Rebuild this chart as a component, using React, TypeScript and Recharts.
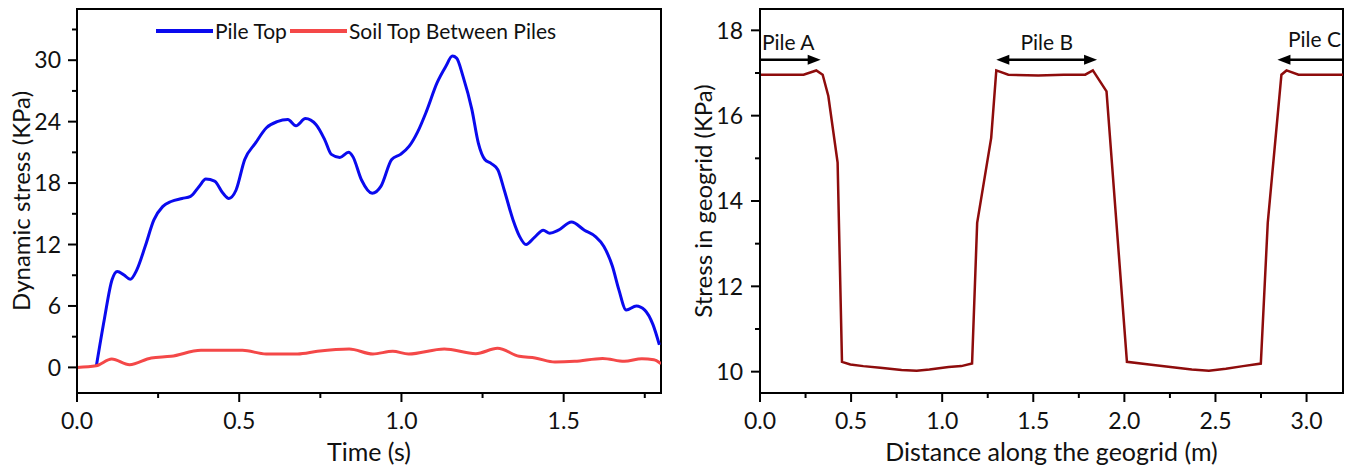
import React from 'react';
import { LineChart, Line, XAxis, YAxis, ReferenceArea, ReferenceLine, Legend } from 'recharts';

// left panel: dynamic stress vs time
const pileTopTime = [0.06, 0.084, 0.108, 0.124, 0.144, 0.164, 0.184, 0.21, 0.237, 0.264, 0.29, 0.324, 0.35, 0.377, 0.397, 0.424, 0.45, 0.468, 0.49, 0.517, 0.55, 0.584, 0.617, 0.65, 0.675, 0.704, 0.737, 0.764, 0.784, 0.81, 0.837, 0.85, 0.877, 0.91, 0.937, 0.97, 0.997, 1.024, 1.05, 1.077, 1.11, 1.137, 1.157, 1.17, 1.19, 1.217, 1.237, 1.257, 1.277, 1.297, 1.317, 1.344, 1.364, 1.384, 1.41, 1.437, 1.457, 1.484, 1.524, 1.564, 1.597, 1.624, 1.65, 1.67, 1.693, 1.724, 1.75, 1.775, 1.795];
const pileTopStress = [0.2, 4.65, 8.56, 9.37, 9.05, 8.6, 9.5, 11.8, 14.4, 15.7, 16.2, 16.5, 16.7, 17.7, 18.4, 18.2, 17.0, 16.5, 17.3, 20.3, 21.9, 23.4, 24.0, 24.2, 23.6, 24.3, 23.7, 22.2, 20.8, 20.5, 21.0, 20.6, 18.3, 17.0, 17.7, 20.3, 20.8, 21.6, 23.0, 25.0, 27.8, 29.4, 30.4, 30.2, 28.4, 25.2, 21.9, 20.3, 19.9, 19.3, 17.3, 14.4, 12.8, 12.0, 12.7, 13.4, 13.1, 13.4, 14.2, 13.4, 12.8, 11.8, 9.9, 7.6, 5.6, 6.0, 5.6, 4.2, 2.2];
const soilTime = [0, 0.059, 0.107, 0.162, 0.229, 0.29, 0.382, 0.51, 0.583, 0.68, 0.741, 0.839, 0.912, 0.973, 1.022, 1.132, 1.229, 1.296, 1.363, 1.412, 1.473, 1.534, 1.62, 1.687, 1.741, 1.778, 1.8];
const soilStress = [0, 0.16, 0.82, 0.26, 0.92, 1.08, 1.67, 1.67, 1.31, 1.31, 1.57, 1.8, 1.31, 1.57, 1.31, 1.8, 1.34, 1.86, 1.08, 0.92, 0.52, 0.59, 0.88, 0.59, 0.85, 0.75, 0.36];
const timeTicks = [0, 0.25, 0.5, 0.75, 1, 1.25, 1.5, 1.75];
const dynTicks = [0, 3, 6, 9, 12, 15, 18, 21, 24, 27, 30, 33];

// right panel: stress in geogrid vs distance
const distance = [0, 0.239, 0.309, 0.344, 0.375, 0.426, 0.45, 0.496, 0.567, 0.66, 0.777, 0.86, 0.93, 1.035, 1.105, 1.164, 1.192, 1.269, 1.297, 1.363, 1.527, 1.667, 1.785, 1.827, 1.902, 2.014, 2.136, 2.253, 2.37, 2.464, 2.557, 2.651, 2.749, 2.787, 2.862, 2.89, 2.956, 3.2];
const geogridStress = [16.96, 16.96, 17.06, 16.96, 16.46, 14.9, 10.23, 10.17, 10.13, 10.09, 10.04, 10.02, 10.05, 10.11, 10.13, 10.19, 13.49, 15.48, 17.06, 16.96, 16.94, 16.96, 16.96, 17.06, 16.57, 10.23, 10.17, 10.11, 10.05, 10.02, 10.07, 10.13, 10.19, 13.49, 16.96, 17.06, 16.96, 16.96];
const distTicks = [0, 0.25, 0.5, 0.75, 1, 1.25, 1.5, 1.75, 2, 2.25, 2.5, 2.75, 3];
const geoTicks = [10, 11, 12, 13, 14, 15, 16, 17, 18];

const pileArrowY = 17.31;

const pileTopData = pileTopTime.map((t, i) => ({ t, v: pileTopStress[i] }));
const soilData = soilTime.map((t, i) => ({ t, v: soilStress[i] }));
const geoData = distance.map((d, i) => ({ d, v: geogridStress[i] }));

const FONT = 'Lato, "Open Sans", sans-serif';
const isMajor = (v: number, step: number) => Math.abs(v / step - Math.round(v / step)) < 1e-6;

const bottomTick = (step: number) => (props: any) => {
  const { x, y, payload } = props;
  const v = payload.value;
  const major = isMajor(v, step);
  return (
    <g>
      <line x1={x} x2={x} y1={y} y2={y + (major ? 9 : 5)} stroke="#000" strokeWidth={2} />
      {major && (
        <text x={x} y={y + 36} textAnchor="middle" fontSize={23} fill="#111">
          {v.toFixed(1)}
        </text>
      )}
    </g>
  );
};

const leftTick = (step: number, gap: number) => (props: any) => {
  const { x, y, payload } = props;
  const v = payload.value;
  const major = isMajor(v, step);
  return (
    <g>
      <line x1={x} x2={x - (major ? 9 : 5)} y1={y} y2={y} stroke="#000" strokeWidth={2} />
      {major && (
        <text x={x - gap} y={y} dy="0.36em" textAnchor="end" fontSize={23} fill="#111">
          {v}
        </text>
      )}
    </g>
  );
};

const LegendBox = ({ payload }: any) => (
  <div style={{ display: 'flex', alignItems: 'center', fontFamily: FONT, fontSize: 21, color: '#111' }}>
    {(payload || []).map((p: any) => (
      <div key={p.value} style={{ display: 'flex', alignItems: 'center', marginRight: 3 }}>
        <div style={{ width: 57, height: 4, background: p.color, marginRight: 2 }} />
        <span>{p.value}</span>
      </div>
    ))}
  </div>
);

// arrow with label, drawn from the reference line end points
const pileArrow = (label: string, heads: 'end' | 'start' | 'both', labelX: 'left' | 'center' | 'right', lift: number) => (p: any) => {
  const { x1, y1, x2, y2 } = p;
  const head = (xt: number, dir: number) => (
    <polygon points={`${xt},${y1} ${xt - dir * 13},${y1 - 5} ${xt - dir * 13},${y1 + 5}`} fill="#000" />
  );
  const lx = labelX === 'left' ? x1 + 2 : labelX === 'right' ? x2 - 2 : (x1 + x2) / 2;
  const anchor = labelX === 'left' ? 'start' : labelX === 'right' ? 'end' : 'middle';
  return (
    <g>
      <line x1={x1 + (heads !== 'end' ? 8 : 0)} x2={x2 - (heads !== 'start' ? 8 : 0)} y1={y1} y2={y2} stroke="#000" strokeWidth={2.5} />
      {heads !== 'start' && head(x2, 1)}
      {heads !== 'end' && head(x1, -1)}
      <text x={lx} y={y1 - lift} textAnchor={anchor} fontSize={21} fill="#111">
        {label}
      </text>
    </g>
  );
};

export default function App() {
  return (
    <div style={{ position: 'absolute', left: 0, top: 0, width: 1348, height: 470, background: '#fff', fontFamily: FONT, display: 'flex' }}>
      <LineChart width={680} height={470} margin={{ top: 9, right: 19, left: 0, bottom: 0 }}>
        <XAxis
          dataKey="t"
          type="number"
          domain={[0, 1.8]}
          ticks={timeTicks}
          interval={0}
          allowDataOverflow
          height={77}
          tickSize={0}
          tickMargin={0}
          tickLine={false}
          axisLine={{ stroke: '#000', strokeWidth: 2 }}
          tick={bottomTick(0.5)}
          label={{ value: 'Time (s)', position: 'insideBottom', offset: 9, fontSize: 25, fill: '#111' }}
        />
        <YAxis
          type="number"
          domain={[-2.5, 35]}
          ticks={dynTicks}
          interval={0}
          allowDataOverflow
          width={77}
          tickSize={0}
          tickMargin={0}
          tickLine={false}
          axisLine={{ stroke: '#000', strokeWidth: 2 }}
          tick={leftTick(6, 16)}
          label={{ value: 'Dynamic stress (KPa)', angle: -90, position: 'insideLeft', offset: 21, fontSize: 24, fill: '#111', style: { textAnchor: 'middle' } }}
        />
        <ReferenceArea x1={0} x2={1.8} y1={-2.5} y2={35} fill="none" fillOpacity={0} stroke="#000" strokeWidth={2} ifOverflow="visible" />
        <Legend
          layout="horizontal"
          verticalAlign="middle"
          align="center"
          wrapperStyle={{ top: 18, left: 156, width: 480 }}
          content={<LegendBox />}
        />
        <Line data={pileTopData} dataKey="v" name="Pile Top" type="monotone" stroke="#0a0aee" strokeWidth={3} dot={false} isAnimationActive={false} />
        <Line data={soilData} dataKey="v" name="Soil Top Between Piles" type="monotone" stroke="#f44848" strokeWidth={3} dot={false} isAnimationActive={false} />
      </LineChart>

      <LineChart width={668} height={470} data={geoData} margin={{ top: 9, right: 5, left: 0, bottom: 0 }}>
        <XAxis
          dataKey="d"
          type="number"
          domain={[0, 3.2]}
          ticks={distTicks}
          interval={0}
          allowDataOverflow
          height={77}
          tickSize={0}
          tickMargin={0}
          tickLine={false}
          axisLine={{ stroke: '#000', strokeWidth: 2 }}
          tick={bottomTick(0.5)}
          label={{ value: 'Distance along the geogrid (m)', position: 'insideBottom', offset: 9, fontSize: 25, fill: '#111' }}
        />
        <YAxis
          type="number"
          domain={[9.5, 18.5]}
          ticks={geoTicks}
          interval={0}
          allowDataOverflow
          width={80}
          tickSize={0}
          tickMargin={0}
          tickLine={false}
          axisLine={{ stroke: '#000', strokeWidth: 2 }}
          tick={leftTick(2, 17)}
          label={{ value: 'Stress in geogrid (KPa)', angle: -90, position: 'insideLeft', offset: 23, fontSize: 24, fill: '#111', style: { textAnchor: 'middle' } }}
        />
        <ReferenceArea x1={0} x2={3.2} y1={9.5} y2={18.5} fill="none" fillOpacity={0} stroke="#000" strokeWidth={2} ifOverflow="visible" />
        <ReferenceLine segment={[{ x: 0, y: pileArrowY }, { x: 0.333, y: pileArrowY }]} ifOverflow="visible" shape={pileArrow('Pile A', 'end', 'left', 10)} />
        <ReferenceLine segment={[{ x: 1.297, y: pileArrowY }, { x: 1.85, y: pileArrowY }]} ifOverflow="visible" shape={pileArrow('Pile B', 'both', 'center', 10)} />
        <ReferenceLine segment={[{ x: 2.84, y: pileArrowY }, { x: 3.2, y: pileArrowY }]} ifOverflow="visible" shape={pileArrow('Pile C', 'start', 'right', 13)} />
        <Line dataKey="v" type="linear" stroke="#8e0c0c" strokeWidth={2.5} dot={false} isAnimationActive={false} />
      </LineChart>
    </div>
  );
}
